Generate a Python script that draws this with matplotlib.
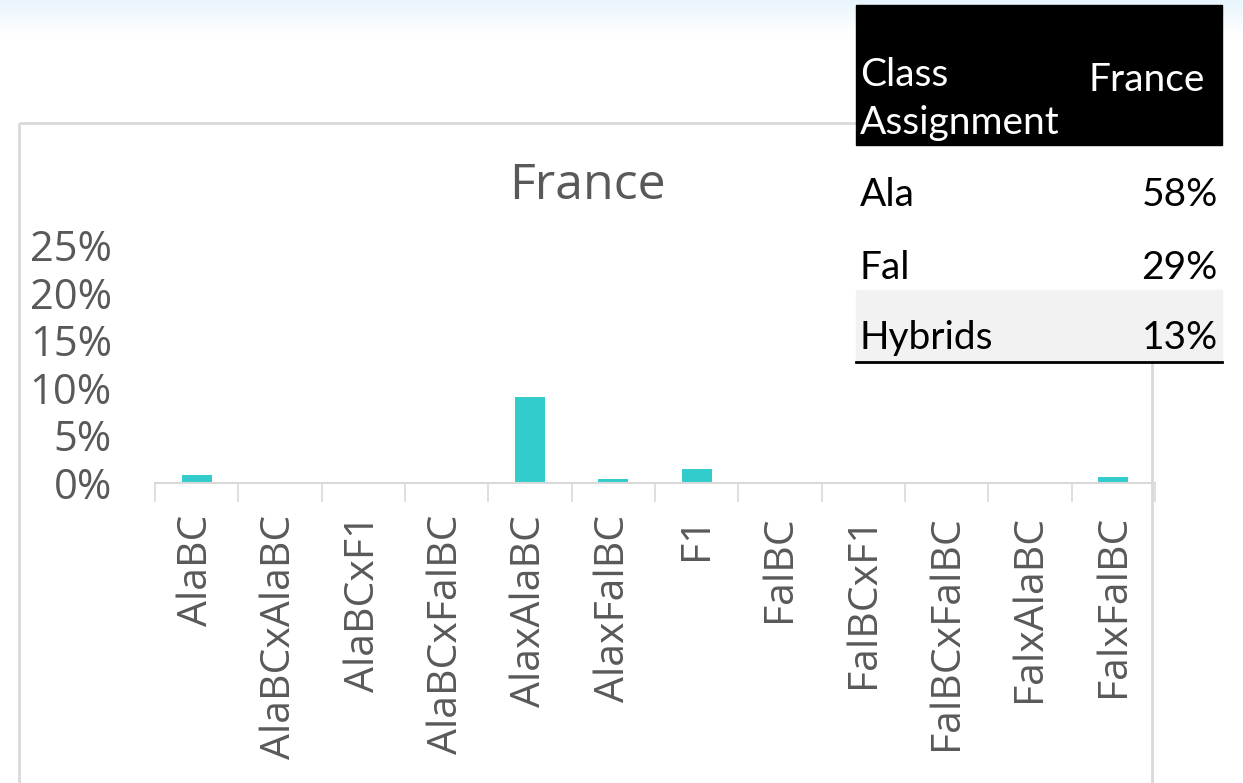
import numpy as np
import matplotlib.pyplot as plt
from matplotlib.patches import Rectangle

categories = ["AlaBC", "AlaBCxAlaBC", "AlaBCxF1", "AlaBCxFalBC", "AlaxAlaBC", "AlaxFalBC",
              "F1", "FalBC", "FalBCxF1", "FalBCxFalBC", "FalxAlaBC", "FalxFalBC"]
values = [0.008, 0.0, 0.0, 0.0, 0.090, 0.004, 0.015, 0.0, 0.0, 0.0, 0.0, 0.006]
yticks = [0, 0.05, 0.10, 0.15, 0.20, 0.25]

table_classes = ["Ala", "Fal", "Hybrids"]
table_france = ["58%", "29%", "13%"]

W, H = 1243, 783
fig = plt.figure(figsize=(W / 100, H / 100), dpi=100)

# light blue band at the top of the slide
bg = fig.add_axes([0, 0, 1, 1])
bg.set_xlim(0, W)
bg.set_ylim(H, 0)
bg.axis("off")
grad = np.linspace(0, 1, 40).reshape(-1, 1)
bg.imshow(grad, extent=(0, W, 35, 0), cmap=plt.matplotlib.colors.LinearSegmentedColormap.from_list(
    "g", ["#e9f5fd", "#ffffff"]), aspect="auto", zorder=0)

# chart border
bg.add_patch(Rectangle((19, 123), 1133, 700, fill=False, ec="#d9d9d9", lw=2, zorder=1))
bg.text(587, 186, "France", ha="center", va="center", fontsize=36, color="#595959",
        family="Open Sans", zorder=2)

ax = fig.add_axes([155 / W, (H - 483) / H, 1000 / W, 238 / H])
x = np.arange(len(categories))
ax.bar(x, values, width=0.36, color="#33cccc")
ax.set_xlim(-0.5, len(categories) - 0.5)
ax.set_ylim(0, 0.25)
ax.set_yticks(yticks)
ax.set_yticklabels([f"{int(round(v * 100))}%" for v in yticks])
ax.set_xticks(x)
ax.set_xticklabels(categories, rotation=90, ha="center", va="top")
ax.set_xticks(np.arange(-0.5, len(categories)), minor=True)
ax.tick_params(axis="x", which="major", length=0, pad=23, labelsize=29.5, labelcolor="#595959")
ax.tick_params(axis="x", which="minor", length=14, width=1.2, color="#d9d9d9")
ax.tick_params(axis="y", length=0, pad=31, labelsize=30, labelcolor="#595959")
for lab in ax.get_xticklabels() + ax.get_yticklabels():
    lab.set_family("Open Sans")
for s in ["top", "right", "left"]:
    ax.spines[s].set_visible(False)
ax.spines["bottom"].set_color("#d9d9d9")
ax.spines["bottom"].set_linewidth(1.5)
ax.patch.set_alpha(0)

# class assignment table
bg.add_patch(Rectangle((856, 5), 366, 140, color="black", zorder=5))
bg.text(860, 99, "Class\nAssignment", color="white", fontsize=28, family="Lato",
        va="center", ha="left", linespacing=1.42, zorder=6)
bg.text(1205, 80, "France", color="white", fontsize=28, family="Lato",
        va="center", ha="right", zorder=6)
row_y = [195, 268, 338]
bg.add_patch(Rectangle((856, 290), 366, 71, color="#f2f2f2", zorder=5))
bg.add_patch(Rectangle((856, 145), 366, 145, color="white", zorder=4))
for cls, val, yy in zip(table_classes, table_france, row_y):
    bg.text(860, yy, cls, color="black", fontsize=28, family="Lato", va="center", zorder=6)
    bg.text(1218, yy, val, color="black", fontsize=28, family="Lato", va="center",
            ha="right", zorder=6)
bg.plot([856, 1222], [362, 362], color="black", lw=2, zorder=6)

fig.savefig("out.png", dpi=100)
